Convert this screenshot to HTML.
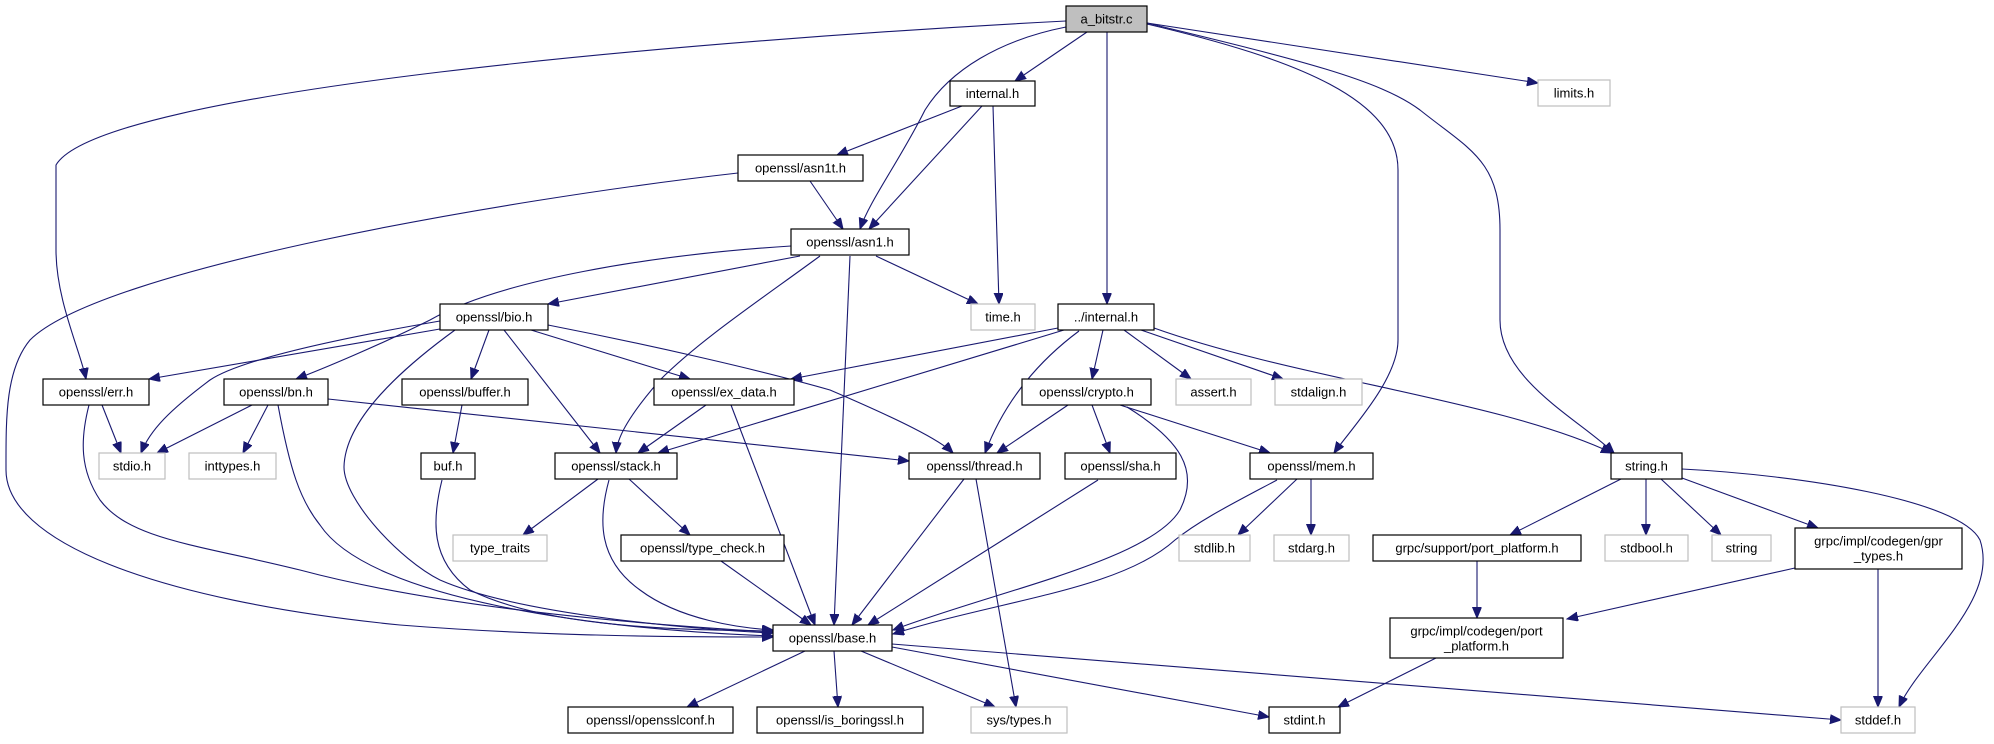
<!DOCTYPE html>
<html><head><meta charset="utf-8"><style>
html,body{margin:0;padding:0;background:#fff;}
svg text{font-family:"Liberation Sans",sans-serif;font-size:13px;fill:#000;text-anchor:middle;dominant-baseline:central;}
.b{fill:#fff;stroke:#000;stroke-width:1.2;}
.g{fill:#fff;stroke:#bfbfbf;stroke-width:1.2;}
.e{fill:none;stroke:#191970;stroke-width:1.1;}
</style></head><body>
<svg width="1994" height="739" viewBox="0 0 1994 739" xmlns="http://www.w3.org/2000/svg">
<defs><marker id="a" markerUnits="userSpaceOnUse" markerWidth="12" markerHeight="10" refX="11" refY="4.5" orient="auto"><path d="M0,0 L11,4.5 L0,9 z" fill="#191970" stroke="#191970"/></marker></defs>
<g marker-end="url(#a)">
<path class="e" d="M1066,21 C700,40 100,90 56,165 L56,250 C56,300 80,350 86,379"/>
<path class="e" d="M1087,32 L1015,81"/>
<path class="e" d="M1066,27 C1000,40 950,70 925,110 C900,160 870,200 860,229"/>
<path class="e" d="M1107,32 L1107,304"/>
<path class="e" d="M1147,24 C1300,60 1398,100 1398,170 L1398,340 C1398,380 1350,430 1334,453"/>
<path class="e" d="M1147,23 C1300,60 1380,80 1420,110 C1470,150 1500,160 1500,230 L1500,320 C1500,380 1580,420 1614,453"/>
<path class="e" d="M1147,23 L1538,83"/>
<path class="e" d="M962,106 L837,155"/>
<path class="e" d="M982,106 L869,229"/>
<path class="e" d="M993,106 L999,304"/>
<path class="e" d="M810,181 L843,229"/>
<path class="e" d="M738,173 C500,200 100,270 30,340 C5,370 6,420 6,470 C6,540 150,600 400,625 C550,637 700,637 773,637"/>
<path class="e" d="M800,256 L548,304"/>
<path class="e" d="M791,246 C650,255 500,280 430,320 C380,345 320,370 296,379"/>
<path class="e" d="M820,256 C760,300 700,340 660,380 C625,420 617,440 616,453"/>
<path class="e" d="M850,256 L834,625"/>
<path class="e" d="M876,256 L978,304"/>
<path class="e" d="M440,329 L149,379"/>
<path class="e" d="M440,321 C330,340 240,360 210,380 C170,410 150,430 141,453"/>
<path class="e" d="M455,330 C400,370 345,420 344,467 C344,500 400,560 440,580 C520,615 700,630 773,633"/>
<path class="e" d="M489,330 L471,379"/>
<path class="e" d="M504,330 L600,453"/>
<path class="e" d="M531,330 L690,379"/>
<path class="e" d="M548,325 C650,345 760,370 830,390 C900,420 940,440 953,453"/>
<path class="e" d="M102,405 L121,453"/>
<path class="e" d="M89,405 C80,440 80,470 100,500 C130,540 200,545 300,570 C450,610 650,625 773,632"/>
<path class="e" d="M252,405 L157,453"/>
<path class="e" d="M268,405 L243,453"/>
<path class="e" d="M278,405 C290,470 300,500 320,525 C370,600 600,630 773,636"/>
<path class="e" d="M328,399 L909,461"/>
<path class="e" d="M462,405 L453,453"/>
<path class="e" d="M442,480 C432,520 430,560 470,590 C550,630 700,630 773,631"/>
<path class="e" d="M706,405 L638,453"/>
<path class="e" d="M731,405 L815,625"/>
<path class="e" d="M598,479 L523,535"/>
<path class="e" d="M629,479 L690,535"/>
<path class="e" d="M609,480 C598,520 598,560 640,590 C680,620 740,628 773,630"/>
<path class="e" d="M721,561 L811,625"/>
<path class="e" d="M964,479 L852,625"/>
<path class="e" d="M976,479 L1016,707"/>
<path class="e" d="M1058,328 L791,379"/>
<path class="e" d="M1064,330 L658,453"/>
<path class="e" d="M1079,331 C1040,360 1005,400 985,453"/>
<path class="e" d="M1103,330 L1092,379"/>
<path class="e" d="M1124,330 L1191,379"/>
<path class="e" d="M1141,330 L1283,379"/>
<path class="e" d="M1154,328 C1300,380 1500,400 1612,453"/>
<path class="e" d="M1068,405 L997,453"/>
<path class="e" d="M1092,405 L1110,453"/>
<path class="e" d="M1120,405 L1270,453"/>
<path class="e" d="M1127,407 C1180,440 1200,470 1180,510 C1150,560 1000,590 893,630"/>
<path class="e" d="M1098,480 L868,625"/>
<path class="e" d="M1277,480 C1230,505 1200,520 1175,540 C1120,590 1000,600 893,634"/>
<path class="e" d="M1297,479 L1238,535"/>
<path class="e" d="M1311,479 L1311,535"/>
<path class="e" d="M1621,479 L1510,535"/>
<path class="e" d="M1646,479 L1646,535"/>
<path class="e" d="M1661,479 L1721,535"/>
<path class="e" d="M1682,478 L1818,528"/>
<path class="e" d="M1682,469 C1800,475 1960,500 1980,540 C2000,600 1920,660 1899,707"/>
<path class="e" d="M1477,561 L1477,618"/>
<path class="e" d="M1795,568 L1567,619"/>
<path class="e" d="M1878,569 L1878,707"/>
<path class="e" d="M1436,658 L1338,707"/>
<path class="e" d="M805,651 L687,707"/>
<path class="e" d="M834,651 L838,707"/>
<path class="e" d="M861,651 L995,707"/>
<path class="e" d="M892,647 L1269,717"/>
<path class="e" d="M892,644 L1841,720"/>
</g>
<rect x="1066" y="6" width="81" height="26" fill="#bfbfbf" stroke="#000" stroke-width="1.2"/><text x="1106.5" y="19">a_bitstr.c</text>
<rect class="b" x="950" y="81" width="85" height="25"/><text x="992.5" y="93.5">internal.h</text>
<rect class="g" x="1538" y="80" width="72" height="26"/><text x="1574" y="93">limits.h</text>
<rect class="b" x="738" y="155" width="125" height="26"/><text x="800.5" y="168">openssl/asn1t.h</text>
<rect class="b" x="791" y="229" width="118" height="26"/><text x="850" y="242">openssl/asn1.h</text>
<rect class="b" x="440" y="304" width="108" height="26"/><text x="494" y="317">openssl/bio.h</text>
<rect class="g" x="971" y="304" width="64" height="26"/><text x="1003" y="317">time.h</text>
<rect class="b" x="1058" y="304" width="96" height="26"/><text x="1106" y="317">../internal.h</text>
<rect class="b" x="43" y="379" width="106" height="26"/><text x="96" y="392">openssl/err.h</text>
<rect class="b" x="224" y="379" width="104" height="26"/><text x="276" y="392">openssl/bn.h</text>
<rect class="b" x="402" y="379" width="126" height="26"/><text x="465" y="392">openssl/buffer.h</text>
<rect class="b" x="654" y="379" width="140" height="26"/><text x="724" y="392">openssl/ex_data.h</text>
<rect class="b" x="1022" y="379" width="129" height="26"/><text x="1086.5" y="392">openssl/crypto.h</text>
<rect class="g" x="1176" y="379" width="75" height="26"/><text x="1213.5" y="392">assert.h</text>
<rect class="g" x="1275" y="379" width="87" height="26"/><text x="1318.5" y="392">stdalign.h</text>
<rect class="g" x="99" y="453" width="66" height="26"/><text x="132" y="466">stdio.h</text>
<rect class="g" x="189" y="453" width="87" height="26"/><text x="232.5" y="466">inttypes.h</text>
<rect class="b" x="421" y="453" width="54" height="26"/><text x="448" y="466">buf.h</text>
<rect class="b" x="555" y="453" width="122" height="26"/><text x="616" y="466">openssl/stack.h</text>
<rect class="b" x="909" y="453" width="131" height="26"/><text x="974.5" y="466">openssl/thread.h</text>
<rect class="b" x="1065" y="453" width="111" height="26"/><text x="1120.5" y="466">openssl/sha.h</text>
<rect class="b" x="1250" y="453" width="123" height="26"/><text x="1311.5" y="466">openssl/mem.h</text>
<rect class="b" x="1611" y="453" width="71" height="26"/><text x="1646.5" y="466">string.h</text>
<rect class="g" x="453" y="535" width="94" height="26"/><text x="500" y="548">type_traits</text>
<rect class="b" x="621" y="535" width="163" height="26"/><text x="702.5" y="548">openssl/type_check.h</text>
<rect class="g" x="1179" y="535" width="71" height="26"/><text x="1214.5" y="548">stdlib.h</text>
<rect class="g" x="1274" y="535" width="75" height="26"/><text x="1311.5" y="548">stdarg.h</text>
<rect class="b" x="1373" y="535" width="208" height="26"/><text x="1477" y="548">grpc/support/port_platform.h</text>
<rect class="g" x="1605" y="535" width="83" height="26"/><text x="1646.5" y="548">stdbool.h</text>
<rect class="g" x="1712" y="535" width="59" height="26"/><text x="1741.5" y="548">string</text>
<rect class="b" x="1795" y="528" width="167" height="41"/><text x="1878.5" y="541">grpc/impl/codegen/gpr</text><text x="1878.5" y="556">_types.h</text>
<rect class="b" x="773" y="625" width="119" height="26"/><text x="832.5" y="638">openssl/base.h</text>
<rect class="b" x="1390" y="618" width="173" height="40"/><text x="1476.5" y="631">grpc/impl/codegen/port</text><text x="1476.5" y="646">_platform.h</text>
<rect class="b" x="568" y="707" width="165" height="26"/><text x="650.5" y="720">openssl/opensslconf.h</text>
<rect class="b" x="757" y="707" width="166" height="26"/><text x="840" y="720">openssl/is_boringssl.h</text>
<rect class="g" x="971" y="707" width="96" height="26"/><text x="1019" y="720">sys/types.h</text>
<rect class="b" x="1269" y="707" width="71" height="26"/><text x="1304.5" y="720">stdint.h</text>
<rect class="g" x="1841" y="707" width="74" height="26"/><text x="1878" y="720">stddef.h</text>
</svg>
</body></html>
